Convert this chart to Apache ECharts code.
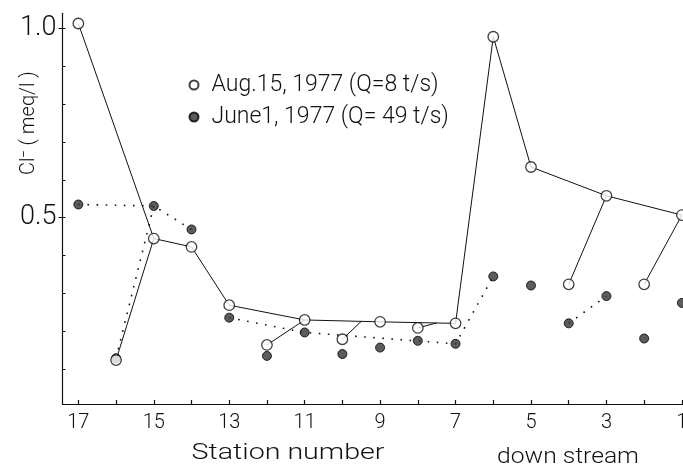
<!DOCTYPE html>
<html>
<head>
<meta charset="utf-8">
<script src="https://cdn.jsdelivr.net/npm/echarts@6/dist/echarts.min.js"></script>
<style>
  html, body { margin: 0; padding: 0; background: #fff; }
  #chart { width: 683px; height: 467px; }
</style>
</head>
<body>
<div id="chart"></div>
<script>
// Station numbers along the river, upstream (17) to downstream (1)
const stations = [17, 16, 15, 14, 13, 12, 11, 10, 9, 8, 7, 6, 5, 4, 3, 2, 1];
// Cl- concentration (meq/l), Aug.15, 1977 (Q = 8 t/s)
const augCl = [1.013, 0.124, 0.445, 0.423, 0.269, 0.164, 0.230, 0.179, 0.225, 0.209, 0.221, 0.978, 0.634, 0.324, 0.558, 0.324, 0.507];
// Cl- concentration (meq/l), June 1, 1977 (Q = 49 t/s)
const juneCl = [0.535, 0.129, 0.531, 0.469, 0.236, 0.135, 0.197, 0.140, 0.157, 0.175, 0.167, 0.345, 0.321, 0.221, 0.293, 0.181, 0.275];

// Tick and label positions
const xTickValues = stations;
const xLabelValues = [17, 15, 13, 11, 9, 7, 5, 3, 1];
const yTickValues = [0.1, 0.2, 0.3, 0.4, 0.5, 0.6, 0.7, 0.8, 0.9, 1.0];
const yLabelValues = [0.5, 1.0];
const yMajorTicks = [0.5, 1.0];

// Connections: main stream and tributaries joining it (station numbers)
const augMain = [17, 15, 14, 13, 11, 9, 7, 6, 5, 3, 1];
const augBranches = [[16, 15], [12, 11], [10, 9.5], [8, 7.5], [4, 3], [2, 1]];
const junePaths = [[17, 15, 14], [16, 15], [13, 11, 7, 6], [4, 3]];

const augName = 'Aug.15, 1977 (Q=8 t/s)';
const juneName = 'June1, 1977 (Q= 49 t/s)';
const FONT = 'Roboto, "DejaVu Sans", sans-serif';

function valueOf(values, st) {
  return values[stations.indexOf(st)];
}
// value on the Aug main stream at any station position (junction points)
function mainValueAt(st) {
  if (stations.indexOf(st) >= 0) return valueOf(augCl, st);
  for (let i = 0; i < augMain.length - 1; i++) {
    const a = augMain[i], b = augMain[i + 1];
    if (st <= a && st >= b) {
      const t = (a - st) / (a - b);
      return valueOf(augCl, a) + t * (valueOf(augCl, b) - valueOf(augCl, a));
    }
  }
  return null;
}

const series = [];
function linePath(points, style) {
  series.push({
    type: 'line', data: points, symbol: 'none', silent: true, z: 2,
    lineStyle: style, animation: false
  });
}
linePath(augMain.map(s => [s, valueOf(augCl, s)]), { color: '#111', width: 1 });
augBranches.forEach(p => linePath(p.map(s => [s, mainValueAt(s)]), { color: '#111', width: 1 }));
junePaths.forEach(p => linePath(p.map(s => [s, valueOf(juneCl, s)]),
  { color: '#111', width: 1.6, type: [1.6, 7.5], cap: 'butt' }));

series.push({
  name: augName, type: 'scatter', z: 4, animation: false,
  data: stations.map((s, i) => [s, augCl[i]]),
  symbol: 'circle', symbolSize: 10.5,
  itemStyle: { color: '#fff', borderColor: '#111', borderWidth: 1.3 }
});
series.push({
  name: juneName, type: 'scatter', z: 3, animation: false,
  data: stations.map((s, i) => [s, juneCl[i]]),
  symbol: 'circle', symbolSize: 9,
  itemStyle: { color: '#333', borderColor: '#000', borderWidth: 1 }
});

const chart = echarts.init(document.getElementById('chart'), null, { renderer: 'canvas' });
chart.setOption({
  backgroundColor: '#fff',
  animation: false,
  grid: { left: 62.5, right: 0, top: 13.3, bottom: 63, containLabel: false, outerBoundsMode: 'none' },
  legend: {
    orient: 'vertical', left: 183.5, top: 68.5, itemGap: 9,
    itemWidth: 9, itemHeight: 9, selectedMode: false,
    data: [{ name: augName, icon: 'circle' }, { name: juneName, icon: 'circle' }],
    textStyle: { fontFamily: FONT, fontWeight: 300, fontSize: 23, color: '#111', padding: [0, 0, 0, 8] }
  },
  xAxis: {
    type: 'value', inverse: true, min: 0.97, max: 17.42,
    axisLine: { show: true, lineStyle: { color: '#111', width: 1.2 } },
    axisTick: { show: true, inside: true, length: 4, customValues: xTickValues, lineStyle: { color: '#111', width: 1.2 } },
    axisLabel: { customValues: xLabelValues, fontFamily: FONT, fontWeight: 300, fontSize: 20, color: '#111', margin: 9 },
    splitLine: { show: false }
  },
  yAxis: [{
    type: 'value', min: 0.008, max: 1.04, position: 'left',
    axisLine: { show: true, lineStyle: { color: '#111', width: 1.2 } },
    axisTick: { show: true, inside: true, length: 3, customValues: yTickValues, lineStyle: { color: '#111', width: 1 } },
    axisLabel: { customValues: yLabelValues, formatter: v => v.toFixed(1), fontFamily: FONT, fontWeight: 300, fontSize: 27, color: '#111', margin: 6 },
    splitLine: { show: false }
  }, {
    type: 'value', min: 0.008, max: 1.04, position: 'left',
    axisLine: { show: false },
    axisTick: { show: true, inside: false, length: 4, customValues: yMajorTicks, lineStyle: { color: '#111', width: 1 } },
    axisLabel: { show: false },
    splitLine: { show: false }
  }],
  graphic: [
    {
      type: 'text', x: 29, y: 123, rotation: Math.PI / 2,
      style: { text: 'Cl\u207B ( meq/l )', font: '300 20px ' + FONT, fill: '#111', align: 'center', verticalAlign: 'middle' }
    },
    {
      type: 'text', x: 288, y: 453, scaleX: 1.3,
      style: { text: 'Station number', font: '300 22px ' + FONT, fill: '#111', align: 'center', verticalAlign: 'middle' }
    },
    {
      type: 'text', x: 568, y: 457, scaleX: 1.12,
      style: { text: 'down stream', font: '300 22px ' + FONT, fill: '#111', align: 'center', verticalAlign: 'middle' }
    }
  ],
  series: series
});
</script>
</body>
</html>
